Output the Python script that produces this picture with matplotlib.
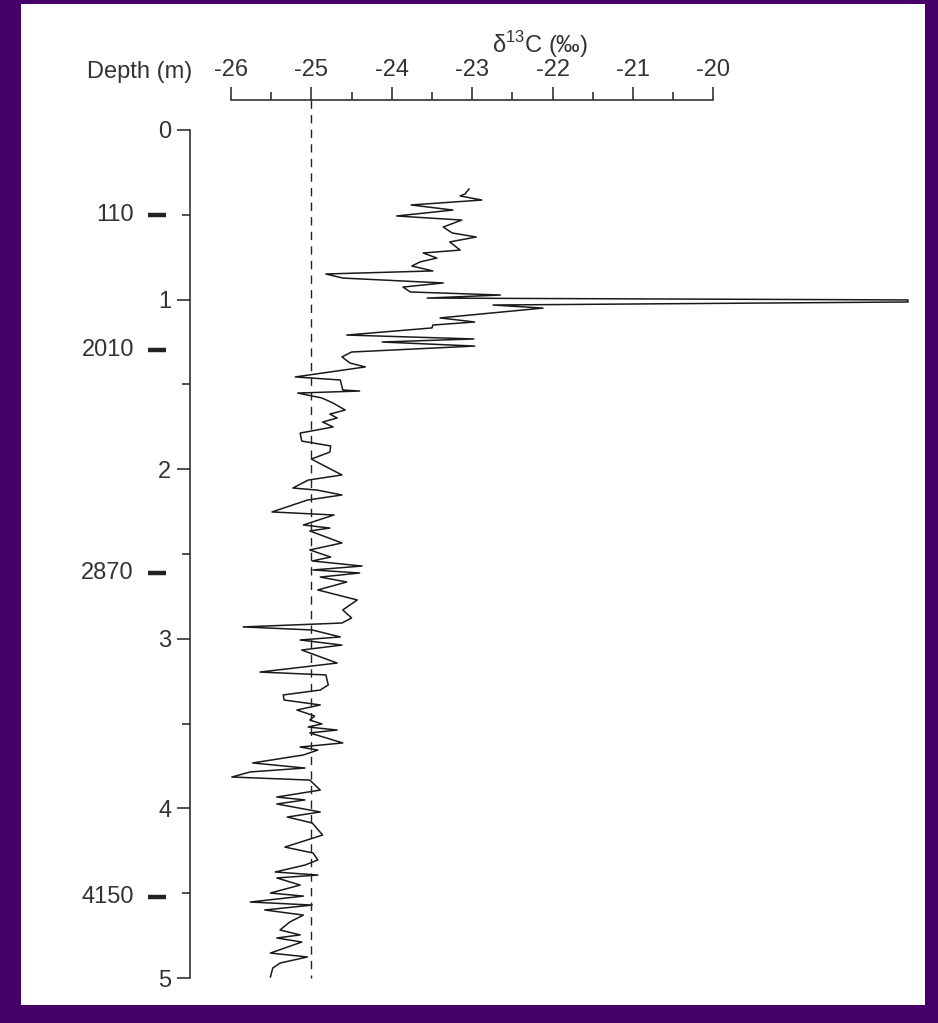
import numpy as np
import matplotlib
matplotlib.use('Agg')
import matplotlib.pyplot as plt
from matplotlib.patches import Rectangle

plt.rcParams['font.family'] = ['Liberation Sans', 'DejaVu Sans']
plt.rcParams['mathtext.fontset'] = 'custom'
plt.rcParams['mathtext.rm'] = 'Liberation Sans'
plt.rcParams['axes.unicode_minus'] = False

# d13C profile (per mil) against core depth (m)
depth = np.array([
    0.348, 0.377, 0.389, 0.413, 0.442, 0.472, 0.507, 0.531, 0.572, 0.607,
    0.631, 0.660, 0.708, 0.725, 0.755, 0.778, 0.802, 0.831, 0.849, 0.873,
    0.902, 0.926, 0.955, 0.973, 0.991, 1.002, 1.014, 1.032, 1.050, 1.108,
    1.132, 1.150, 1.167, 1.209, 1.232, 1.250, 1.274, 1.309, 1.338, 1.374,
    1.397, 1.456, 1.474, 1.533, 1.539, 1.551, 1.580, 1.610, 1.651, 1.675,
    1.698, 1.722, 1.751, 1.787, 1.834, 1.863, 1.899, 1.940, 1.975, 2.034,
    2.064, 2.111, 2.123, 2.152, 2.182, 2.252, 2.270, 2.329, 2.347, 2.364,
    2.435, 2.476, 2.518, 2.541, 2.571, 2.594, 2.612, 2.636, 2.665, 2.712,
    2.771, 2.830, 2.877, 2.907, 2.930, 2.948, 2.989, 3.007, 3.037, 3.066,
    3.143, 3.196, 3.213, 3.272, 3.302, 3.331, 3.361, 3.390, 3.420, 3.455,
    3.479, 3.502, 3.520, 3.538, 3.555, 3.614, 3.638, 3.656, 3.685, 3.732,
    3.762, 3.785, 3.815, 3.833, 3.892, 3.933, 3.950, 3.974, 4.021, 4.051,
    4.086, 4.157, 4.228, 4.263, 4.304, 4.334, 4.375, 4.393, 4.410, 4.452,
    4.499, 4.517, 4.552, 4.570, 4.599, 4.629, 4.670, 4.717, 4.746, 4.764,
    4.788, 4.853, 4.876, 4.912, 4.941, 4.994])
d13c = np.array([
    -23.04, -23.09, -23.15, -22.88, -23.76, -23.24, -23.94, -23.13, -23.36, -23.25,
    -22.95, -23.28, -23.15, -23.61, -23.44, -23.65, -23.75, -23.49, -24.82, -24.61,
    -23.36, -23.86, -23.77, -22.65, -23.56, -17.58, -17.58, -22.74, -22.12, -23.40,
    -22.97, -23.49, -23.50, -24.56, -22.98, -24.12, -22.97, -24.50, -24.62, -24.52,
    -24.33, -25.20, -24.64, -24.61, -24.40, -25.17, -24.87, -24.73, -24.58, -24.77,
    -24.68, -24.86, -24.73, -25.14, -25.12, -24.76, -24.77, -25.00, -24.86, -24.62,
    -25.04, -25.23, -24.93, -24.62, -25.05, -25.49, -24.72, -25.10, -24.77, -25.02,
    -24.62, -25.02, -24.76, -24.99, -24.37, -24.98, -24.40, -24.89, -24.56, -24.92,
    -24.43, -24.61, -24.50, -24.62, -25.85, -24.99, -24.64, -25.14, -24.62, -25.12,
    -24.68, -25.64, -24.82, -24.79, -24.89, -25.35, -25.34, -24.89, -25.18, -24.96,
    -25.02, -24.87, -25.04, -24.68, -25.02, -24.61, -25.14, -24.92, -25.10, -25.73,
    -25.08, -25.76, -25.99, -25.02, -24.89, -25.43, -25.08, -25.43, -24.89, -25.30,
    -24.99, -24.86, -25.33, -24.98, -24.92, -25.08, -25.45, -24.92, -25.43, -25.14,
    -25.51, -25.10, -25.76, -24.99, -25.58, -25.10, -25.27, -25.39, -25.14, -25.43,
    -25.12, -25.51, -25.05, -25.39, -25.48, -25.51])

# age markers beside the depth axis
age_labels = ['110', '2010', '2870', '4150']
age_depths = [0.50, 1.30, 2.61, 4.52]

ref_value = -25.0
ink = '#222222'
txt = '#333333'
fs = 17

W, H = 938, 1023
fig = plt.figure(figsize=(W / 100, H / 100), dpi=100, facecolor='#45006a')
fig.patches.append(Rectangle((21 / W, 1 - 1005 / H), 904 / W, 1001 / H,
                             transform=fig.transFigure, facecolor='white',
                             edgecolor='none', zorder=-10))

ax = fig.add_axes([231 / W, 1 - 978 / H, 683.4 / W, 848 / H])
ax.set_zorder(5)
ax.patch.set_alpha(0)
ax.set_xlim(-26, -17.5)
ax.set_ylim(5, 0)

ax.plot(d13c, depth, color='#1a1a1a', lw=1.1, clip_on=False)
ax.plot([ref_value, ref_value], [-0.177, 5], color=ink, lw=1.0,
        ls=(0, (6, 4.5)), clip_on=False)

ax.spines['right'].set_visible(False)
ax.spines['bottom'].set_visible(False)
for side in ['top', 'left']:
    ax.spines[side].set_linewidth(1.1)
    ax.spines[side].set_color(ink)
ax.spines['top'].set_position(('outward', 21.6))
ax.spines['top'].set_bounds(-26, -20)
ax.spines['left'].set_position(('outward', 29.5))
ax.spines['left'].set_bounds(0, 5)

ax.xaxis.tick_top()
ax.set_xticks(np.arange(-26, -19.5, 1))
ax.set_xticks(np.arange(-25.5, -20, 1), minor=True)
ax.set_xticklabels(['%d' % v for v in np.arange(-26, -19.5, 1)])
ax.set_yticks(np.arange(0, 6))
ax.set_yticks(np.arange(0.5, 5, 1), minor=True)
ax.tick_params(which='major', length=9.4, width=1.1, color=ink,
               labelsize=fs, labelcolor=txt, pad=4)
ax.tick_params(which='minor', length=5.5, width=1.1, color=ink)

ytr = ax.get_yaxis_transform()
for lab, d in zip(age_labels, age_depths):
    ax.plot([-0.1215, -0.0951], [d, d], color=ink, lw=3.2,
            transform=ytr, clip_on=False, solid_capstyle='butt')
    ax.text(-0.142, d, lab, transform=ytr, ha='right', va='center',
            fontsize=fs, color=txt)

fig.text(192 / W, 1 - 72 / H, 'Depth (m)', ha='right', va='center',
         fontsize=fs, color=txt)
fig.text(540 / W, 1 - 45 / H, r'δ$^{13}$C (‰)', ha='center', va='center',
         fontsize=fs, color=txt)

fig.savefig('out.png', dpi=100, facecolor=fig.get_facecolor())
